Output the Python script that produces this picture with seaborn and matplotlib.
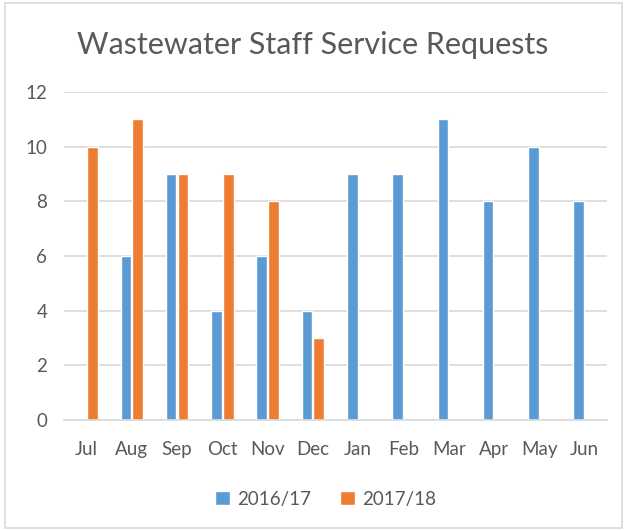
import pandas as pd
import numpy as np
import matplotlib
matplotlib.use("Agg")
import matplotlib.pyplot as plt
import seaborn as sns
from matplotlib.patches import Rectangle

months = ["Jul", "Aug", "Sep", "Oct", "Nov", "Dec",
          "Jan", "Feb", "Mar", "Apr", "May", "Jun"]
fy_2016_17 = [0, 6, 9, 4, 6, 4, 9, 9, 11, 8, 10, 8]
fy_2017_18 = [10, 11, 9, 9, 8, 3, np.nan, np.nan, np.nan, np.nan, np.nan, np.nan]
series_names = ["2016/17", "2017/18"]
colors = ["#5B9BD5", "#ED7D31"]

df = pd.DataFrame({
    "Month": months * 2,
    "Year": [series_names[0]] * 12 + [series_names[1]] * 12,
    "Requests": fy_2016_17 + fy_2017_18,
})

sns.set_style("white")
plt.rcParams["font.family"] = ["Lato", "DejaVu Sans"]
text_color = "#595959"

fig = plt.figure(figsize=(6.26, 5.30), dpi=100)
ax = fig.add_axes([0.102, 0.2075, 0.868, 0.619])

sns.barplot(data=df, x="Month", y="Requests", hue="Year", order=months,
            hue_order=series_names, palette=colors, width=0.52, gap=0.1,
            saturation=1, ax=ax, legend=True)

ax.set_ylim(0, 12)
ax.set_yticks(range(0, 13, 2))
ax.set_xlim(-0.5, 11.5)
ax.grid(axis="y", color="#D9D9D9", linewidth=1.2)
ax.set_axisbelow(True)
for side in ["top", "right", "left"]:
    ax.spines[side].set_visible(False)
ax.spines["bottom"].set_color("#D9D9D9")
ax.spines["bottom"].set_linewidth(1.2)
ax.tick_params(axis="both", length=0, colors=text_color, labelsize=13.5)
ax.tick_params(axis="x", pad=15)
ax.tick_params(axis="y", pad=12)
ax.set_xlabel("")
ax.set_ylabel("")

fig.text(0.5, 0.915, "Wastewater Staff Service Requests", ha="center",
         va="center", fontsize=22, color=text_color)

handles, labels = ax.get_legend_handles_labels()
ax.get_legend().remove()
fig.legend(handles, labels, loc="center", bbox_to_anchor=(0.52, 0.058),
           ncol=2, frameon=False, fontsize=13.5, labelcolor=text_color,
           handlelength=0.8, handleheight=0.8, handletextpad=0.4,
           columnspacing=1.5)

fig.patches.append(Rectangle((0.008, 0.004), 0.986, 0.99, transform=fig.transFigure,
                             fill=False, edgecolor="#D9D9D9", linewidth=1.2))

fig.savefig("out.png", dpi=100)
